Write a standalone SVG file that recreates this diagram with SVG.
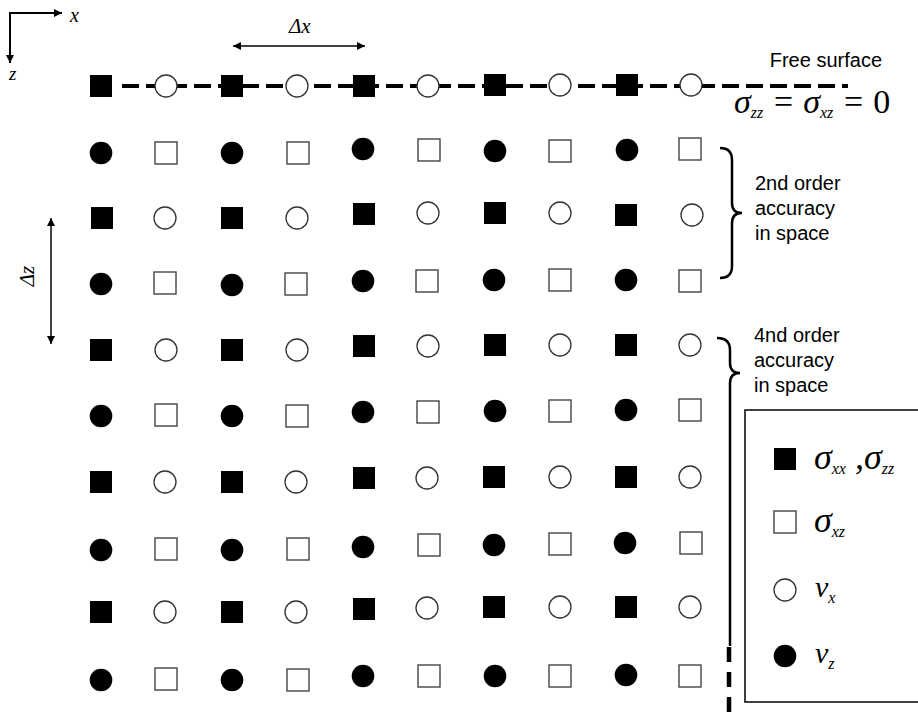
<svg xmlns="http://www.w3.org/2000/svg" xmlns:xlink="http://www.w3.org/1999/xlink" width="918" height="713" viewBox="0 0 918 713">
<style>
.fs{fill:#000}
.os{fill:#fff;stroke:#444;stroke-width:1.4}
.oc{fill:#fff;stroke:#333;stroke-width:1.3}
.ln{stroke:#000;fill:none}
.sans{font-family:"Liberation Sans",Arial,sans-serif;font-size:20px;fill:#000}
.ser{font-family:"Liberation Serif","Times New Roman",serif;font-style:italic;fill:#000}
.up{font-style:normal}
</style>
<defs>
<rect id="fsq" class="fs" x="-11" y="-11" width="22" height="22"/>
<rect id="osq" class="os" x="-11" y="-11" width="22" height="22"/>
<circle id="fci" class="fs" r="11.3"/>
<circle id="oci" class="oc" r="11"/>
<marker id="ah" viewBox="0 0 10 10" refX="10" refY="5" markerWidth="9" markerHeight="8" markerUnits="userSpaceOnUse" orient="auto-start-reverse"><path d="M0,0 L10,5 L0,10 z" fill="#000"/></marker>
</defs>
<rect width="918" height="713" fill="#fff"/>

<g id="connectors">
<line class="ln" x1="9" y1="13" x2="62" y2="13" stroke-width="2" marker-end="url(#ah)"/>
<line class="ln" x1="10" y1="12" x2="10" y2="63" stroke-width="2" marker-end="url(#ah)"/>
<line class="ln" x1="233" y1="46" x2="365" y2="46" stroke-width="1.5" marker-start="url(#ah)" marker-end="url(#ah)"/>
<line class="ln" x1="51" y1="218" x2="51" y2="344" stroke-width="1.5" marker-start="url(#ah)" marker-end="url(#ah)"/>
<line class="ln" x1="122" y1="86" x2="848" y2="86" stroke-width="4" stroke-dasharray="17 7"/>
<path class="ln" stroke-width="2.5" d="M720,148 Q732,148 732,160 L732,203 Q732,213 742,213 Q732,213 732,223 L732,266 Q732,278 720,278"/>
<path class="ln" stroke-width="2.5" d="M717,338 Q730,338 730,350 L730,363 Q730,373 740,373 Q730,373 730,383 L730,646"/>
<line class="ln" x1="729" y1="647" x2="729" y2="713" stroke-width="4.5" stroke-dasharray="15 10"/>
</g>

<g id="labels">
<text class="ser" x="70" y="22" font-size="20">x</text>
<text class="ser" x="9" y="80" font-size="19">z</text>
<text class="ser" x="289" y="33" font-size="21">Δx</text>
<text class="ser" font-size="21" text-anchor="middle" transform="translate(34,276) rotate(-90)">Δz</text>
<text class="sans" x="882" y="67" text-anchor="end" font-size="18">Free surface</text>
<text class="ser" x="734" y="113" font-size="34">σ<tspan font-size="16" dy="5">zz</tspan><tspan dy="-5"> = σ</tspan><tspan font-size="16" dy="5">xz</tspan><tspan dy="-5"> = </tspan><tspan class="up">0</tspan></text>
<text class="sans" x="755" y="190">2nd order</text>
<text class="sans" x="755" y="215">accuracy</text>
<text class="sans" x="755" y="240">in space</text>
<text class="sans" x="754" y="342">4nd order</text>
<text class="sans" x="754" y="367">accuracy</text>
<text class="sans" x="754" y="392">in space</text>
</g>

<g id="legend">
<rect x="745" y="410" width="180" height="292" fill="none" stroke="#000" stroke-width="1.5"/>
<use xlink:href="#fsq" x="785" y="459"/>
<text class="ser" x="814" y="469" font-size="36">σ<tspan font-size="16" dy="5">xx</tspan><tspan dy="-5"> ,σ</tspan><tspan font-size="16" dy="5">zz</tspan></text>
<use xlink:href="#osq" x="785" y="522"/>
<text class="ser" x="814" y="532" font-size="36">σ<tspan font-size="16" dy="5">xz</tspan></text>
<use xlink:href="#oci" x="785" y="590"/>
<text class="ser" x="815" y="597" font-size="30">v<tspan font-size="16" dy="6">x</tspan></text>
<use xlink:href="#fci" x="785" y="656"/>
<text class="ser" x="815" y="663" font-size="30">v<tspan font-size="16" dy="6">z</tspan></text>
</g>

<g id="grid">
<g id="n1-1"><use xlink:href="#fsq" x="101" y="86"/></g>
<g id="n1-2"><use xlink:href="#oci" x="166" y="86"/></g>
<g id="n1-3"><use xlink:href="#fsq" x="232" y="86"/></g>
<g id="n1-4"><use xlink:href="#oci" x="297" y="86"/></g>
<g id="n1-5"><use xlink:href="#fsq" x="364" y="86"/></g>
<g id="n1-6"><use xlink:href="#oci" x="428" y="86"/></g>
<g id="n1-7"><use xlink:href="#fsq" x="495" y="85"/></g>
<g id="n1-8"><use xlink:href="#oci" x="560" y="85"/></g>
<g id="n1-9"><use xlink:href="#fsq" x="627" y="85"/></g>
<g id="n1-10"><use xlink:href="#oci" x="691" y="85"/></g>

<g id="n2-1"><use xlink:href="#fci" x="101" y="153"/></g>
<g id="n2-2"><use xlink:href="#osq" x="166" y="153"/></g>
<g id="n2-3"><use xlink:href="#fci" x="232" y="153"/></g>
<g id="n2-4"><use xlink:href="#osq" x="298" y="153"/></g>
<g id="n2-5"><use xlink:href="#fci" x="363" y="149"/></g>
<g id="n2-6"><use xlink:href="#osq" x="429" y="150"/></g>
<g id="n2-7"><use xlink:href="#fci" x="495" y="151"/></g>
<g id="n2-8"><use xlink:href="#osq" x="560" y="151"/></g>
<g id="n2-9"><use xlink:href="#fci" x="627" y="150"/></g>
<g id="n2-10"><use xlink:href="#osq" x="690" y="149"/></g>

<g id="n3-1"><use xlink:href="#fsq" x="102" y="218"/></g>
<g id="n3-2"><use xlink:href="#oci" x="165" y="218"/></g>
<g id="n3-3"><use xlink:href="#fsq" x="232" y="218"/></g>
<g id="n3-4"><use xlink:href="#oci" x="297" y="218"/></g>
<g id="n3-5"><use xlink:href="#fsq" x="364" y="214"/></g>
<g id="n3-6"><use xlink:href="#oci" x="428" y="213"/></g>
<g id="n3-7"><use xlink:href="#fsq" x="495" y="213"/></g>
<g id="n3-8"><use xlink:href="#oci" x="560" y="213"/></g>
<g id="n3-9"><use xlink:href="#fsq" x="626" y="215"/></g>
<g id="n3-10"><use xlink:href="#oci" x="692" y="215"/></g>

<g id="n4-1"><use xlink:href="#fci" x="101" y="284"/></g>
<g id="n4-2"><use xlink:href="#osq" x="165" y="283"/></g>
<g id="n4-3"><use xlink:href="#fci" x="232" y="285"/></g>
<g id="n4-4"><use xlink:href="#osq" x="296" y="284"/></g>
<g id="n4-5"><use xlink:href="#fci" x="363" y="281"/></g>
<g id="n4-6"><use xlink:href="#osq" x="427" y="281"/></g>
<g id="n4-7"><use xlink:href="#fci" x="494" y="280"/></g>
<g id="n4-8"><use xlink:href="#osq" x="560" y="280"/></g>
<g id="n4-9"><use xlink:href="#fci" x="626" y="280"/></g>
<g id="n4-10"><use xlink:href="#osq" x="690" y="281"/></g>

<g id="n5-1"><use xlink:href="#fsq" x="101" y="350"/></g>
<g id="n5-2"><use xlink:href="#oci" x="166" y="350"/></g>
<g id="n5-3"><use xlink:href="#fsq" x="232" y="350"/></g>
<g id="n5-4"><use xlink:href="#oci" x="297" y="350"/></g>
<g id="n5-5"><use xlink:href="#fsq" x="364" y="346"/></g>
<g id="n5-6"><use xlink:href="#oci" x="428" y="346"/></g>
<g id="n5-7"><use xlink:href="#fsq" x="495" y="345"/></g>
<g id="n5-8"><use xlink:href="#oci" x="560" y="345"/></g>
<g id="n5-9"><use xlink:href="#fsq" x="626" y="345"/></g>
<g id="n5-10"><use xlink:href="#oci" x="690" y="345"/></g>

<g id="n6-1"><use xlink:href="#fci" x="101" y="416"/></g>
<g id="n6-2"><use xlink:href="#osq" x="166" y="415"/></g>
<g id="n6-3"><use xlink:href="#fci" x="232" y="416"/></g>
<g id="n6-4"><use xlink:href="#osq" x="297" y="416"/></g>
<g id="n6-5"><use xlink:href="#fci" x="363" y="412"/></g>
<g id="n6-6"><use xlink:href="#osq" x="428" y="412"/></g>
<g id="n6-7"><use xlink:href="#fci" x="495" y="411"/></g>
<g id="n6-8"><use xlink:href="#osq" x="560" y="411"/></g>
<g id="n6-9"><use xlink:href="#fci" x="626" y="410"/></g>
<g id="n6-10"><use xlink:href="#osq" x="690" y="410"/></g>

<g id="n7-1"><use xlink:href="#fsq" x="101" y="482"/></g>
<g id="n7-2"><use xlink:href="#oci" x="165" y="482"/></g>
<g id="n7-3"><use xlink:href="#fsq" x="232" y="482"/></g>
<g id="n7-4"><use xlink:href="#oci" x="296" y="482"/></g>
<g id="n7-5"><use xlink:href="#fsq" x="364" y="478"/></g>
<g id="n7-6"><use xlink:href="#oci" x="427" y="478"/></g>
<g id="n7-7"><use xlink:href="#fsq" x="494" y="477"/></g>
<g id="n7-8"><use xlink:href="#oci" x="560" y="477"/></g>
<g id="n7-9"><use xlink:href="#fsq" x="626" y="477"/></g>
<g id="n7-10"><use xlink:href="#oci" x="690" y="477"/></g>

<g id="n8-1"><use xlink:href="#fci" x="101" y="550"/></g>
<g id="n8-2"><use xlink:href="#osq" x="166" y="549"/></g>
<g id="n8-3"><use xlink:href="#fci" x="232" y="550"/></g>
<g id="n8-4"><use xlink:href="#osq" x="298" y="549"/></g>
<g id="n8-5"><use xlink:href="#fci" x="363" y="547"/></g>
<g id="n8-6"><use xlink:href="#osq" x="429" y="545"/></g>
<g id="n8-7"><use xlink:href="#fci" x="494" y="545"/></g>
<g id="n8-8"><use xlink:href="#osq" x="560" y="544"/></g>
<g id="n8-9"><use xlink:href="#fci" x="625" y="543"/></g>
<g id="n8-10"><use xlink:href="#osq" x="691" y="543"/></g>

<g id="n9-1"><use xlink:href="#fsq" x="101" y="612"/></g>
<g id="n9-2"><use xlink:href="#oci" x="165" y="612"/></g>
<g id="n9-3"><use xlink:href="#fsq" x="232" y="612"/></g>
<g id="n9-4"><use xlink:href="#oci" x="296" y="612"/></g>
<g id="n9-5"><use xlink:href="#fsq" x="364" y="609"/></g>
<g id="n9-6"><use xlink:href="#oci" x="427" y="608"/></g>
<g id="n9-7"><use xlink:href="#fsq" x="494" y="607"/></g>
<g id="n9-8"><use xlink:href="#oci" x="560" y="607"/></g>
<g id="n9-9"><use xlink:href="#fsq" x="626" y="607"/></g>
<g id="n9-10"><use xlink:href="#oci" x="690" y="607"/></g>

<g id="n10-1"><use xlink:href="#fci" x="101" y="680"/></g>
<g id="n10-2"><use xlink:href="#osq" x="166" y="679"/></g>
<g id="n10-3"><use xlink:href="#fci" x="232" y="680"/></g>
<g id="n10-4"><use xlink:href="#osq" x="298" y="680"/></g>
<g id="n10-5"><use xlink:href="#fci" x="363" y="676"/></g>
<g id="n10-6"><use xlink:href="#osq" x="429" y="676"/></g>
<g id="n10-7"><use xlink:href="#fci" x="495" y="676"/></g>
<g id="n10-8"><use xlink:href="#osq" x="560" y="676"/></g>
<g id="n10-9"><use xlink:href="#fci" x="626" y="675"/></g>
<g id="n10-10"><use xlink:href="#osq" x="690" y="676"/></g>
</g>
</svg>
